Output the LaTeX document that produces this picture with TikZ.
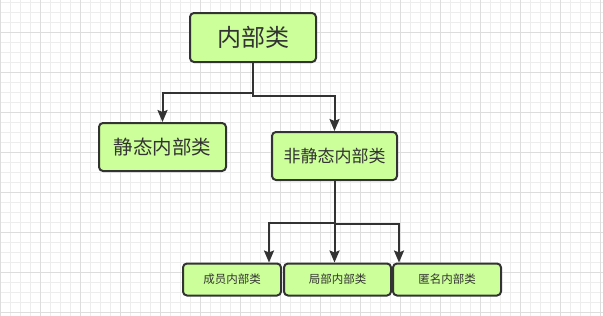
\documentclass[tikz,border=0pt]{standalone}
\usepackage{fontspec}
\newfontfamily\cjk{Noto Sans CJK SC}
\usetikzlibrary{arrows.meta,calc}
\definecolor{boxfill}{HTML}{CCFF99}
\definecolor{ink}{HTML}{333333}
\definecolor{gridminor}{HTML}{EDEDED}
\definecolor{gridmajor}{HTML}{DDDDDD}
\begin{document}
\begin{tikzpicture}[x=1pt,y=-1pt,
  box/.style={draw=ink,fill=boxfill,line width=2pt,rounded corners=4pt,inner sep=0pt,text=ink},
  conn/.style={draw=ink,line width=2pt,-{Stealth[length=12pt,width=10pt,inset=2pt]}},
]
\useasboundingbox (0,0) rectangle (603,316);
\fill[white] (0,0) rectangle (603,316);
\foreach \x in {0,10,...,600} {\draw[gridminor,line width=1pt] (\x,0) -- (\x,316);}
\foreach \y in {2,12,...,312} {\draw[gridminor,line width=1pt] (0,\y) -- (603,\y);}
\foreach \x in {0,40,...,600} {\draw[gridmajor,line width=1pt] (\x,0) -- (\x,316);}
\foreach \y in {32,72,...,312} {\draw[gridmajor,line width=1pt] (0,\y) -- (603,\y);}

\node[box,minimum width=126pt,minimum height=49pt,font=\cjk\fontsize{24}{28}\selectfont] (top) at (253,37.5) {内部类};
\node[box,minimum width=127pt,minimum height=48pt,font=\cjk\fontsize{19.5}{23}\selectfont] (st) at (162.5,147) {静态内部类};
\node[box,minimum width=125pt,minimum height=48pt,font=\cjk\fontsize{17}{20}\selectfont] (ns) at (334.5,156) {非静态内部类};
\node[box,minimum width=98pt,minimum height=32pt,font=\cjk\fontsize{11.5}{14}\selectfont] (b1) at (232,279.5) {成员内部类};
\node[box,minimum width=107pt,minimum height=32pt,font=\cjk\fontsize{11.5}{14}\selectfont] (b2) at (337.5,279.5) {局部内部类};
\node[box,minimum width=108pt,minimum height=32pt,font=\cjk\fontsize{11.5}{14}\selectfont] (b3) at (447,279.5) {匿名内部类};

\coordinate (jl) at ($(top.south)+(0,30)$);
\coordinate (jr) at ($(top.south)+(0,33)$);
\draw[conn] (top.south) -- (jl) -| (st.north);
\draw[conn] (top.south) -- (jr) -| (ns.north);

\coordinate (kl) at ($(ns.south)+(0,42)$);
\coordinate (kr) at ($(ns.south)+(0,43)$);
\coordinate (e1) at ($(b1.north east)+(-13,0)$);
\coordinate (e3) at ($(b3.north west)+(7,0)$);
\draw[conn] (ns.south) -- (kl) -| (e1);
\draw[conn] (ns.south) -- (ns.south |- b2.north);
\draw[conn] (ns.south) -- (kr) -| (e3);
\end{tikzpicture}
\end{document}
